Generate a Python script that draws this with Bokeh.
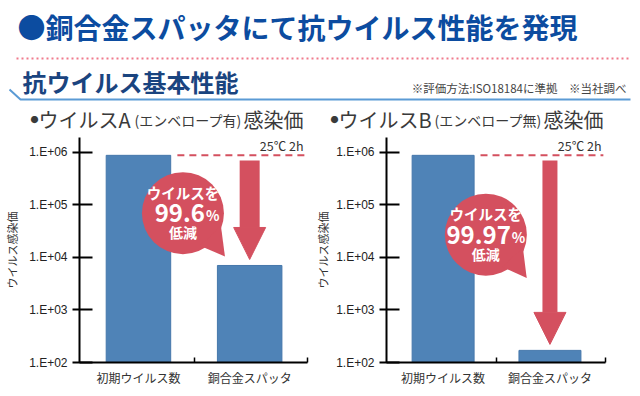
from math import log10
from bokeh.plotting import figure
from bokeh.models import Range1d, FixedTicker, Label, Arrow, NormalHead, ColumnDataSource
from bokeh.layouts import column, row
from bokeh.embed import file_html
from bokeh.resources import INLINE

# ---------------- data ----------------
CATEGORIES = ["初期ウイルス数", "銅合金スパッタ"]
VIRUS_A = [8.7e5, 7.0e3]          # infectivity titre, virus A
VIRUS_B = [8.7e5, 1.7e2]          # infectivity titre, virus B
REDUCTION = ["99.6", "99.97"]
Y_TICKS = [1e2, 1e3, 1e4, 1e5, 1e6]
Y_TICK_LABELS = ["1.E+02", "1.E+03", "1.E+04", "1.E+05", "1.E+06"]
MAIN_TITLE = "●銅合金スパッタにて抗ウイルス性能を発現"
SUBTITLE = "抗ウイルス基本性能"
NOTE = "※評価方法:ISO18184に準拠　※当社調べ"
CHART_NAMES = ["ウイルスA", "ウイルスB"]
ENVELOPE = ["(エンベロープ有)", "(エンベロープ無)"]
CONDITION = "25℃ 2h"
Y_LABEL = "ウイルス感染価"
BUBBLE_TOP = "ウイルスを"
BUBBLE_BOTTOM = "低減"

# ---------------- style ----------------
JP = "Noto Sans CJK JP"
BLUE = "#4f83b7"
BLUE_EDGE = "#4577ab"
RED = "#d4505f"
TXT = "#333333"
X0, X1 = -0.53, 1.52
Y0, Y1 = 1e2, 1.9e6
BAR_W = 0.58
FH = 229
TAIL = [(17, 33), (38, 13), (42, 44)]   # bubble tail, px from bubble centre (y down)


def px_offset(x, y, dx, dy, fw):
    return (x + dx * (X1 - X0) / fw,
            y * 10 ** (-dy * (log10(Y1) - log10(Y0)) / FH))


# ---------------- header ----------------
HDR_H = 134
hdr = figure(width=640, height=HDR_H, x_range=Range1d(0, 640), y_range=Range1d(HDR_H, 0),
             toolbar_location=None, output_backend="svg", min_border=0,
             x_axis_location=None, y_axis_location=None, title=None)
hdr.grid.visible = False
hdr.outline_line_color = None

hdr.add_layout(Label(x=17, y=26, text=MAIN_TITLE, text_font=JP, text_font_size="28px",
                     text_font_style="bold", text_color="#0c4ca0", text_baseline="middle"))
hdr.line([16, 630], [58, 58], line_color="#f07a8c", line_width=2, line_dash="2 3")
hdr.add_layout(Label(x=22, y=81, text=SUBTITLE, text_font=JP, text_font_size="24px",
                     text_font_style="bold", text_color="#1a447f", text_baseline="middle"))
hdr.add_layout(Label(x=626, y=87, text=NOTE, text_font=JP, text_font_size="11.5px",
                     text_color="#444444", text_baseline="middle", text_align="right"))
hdr.line([9, 20, 630], [89, 99, 99], line_color="#5b9bd5", line_width=2)

for origin, name, env in zip([30, 330], CHART_NAMES, ENVELOPE):
    pieces = [("●", "8px", 0), (name, "20px", 8), (env, "14px", 104), ("感染価", "20px", 213)]
    for txt, size, dx in pieces:
        hdr.add_layout(Label(x=origin + dx, y=119, text=txt, text_font=JP, text_font_size=size,
                             text_color="#3a3a3a", text_baseline="middle"))


# ---------------- charts ----------------
def make_chart(values, pct, width, left, right, bubble, split, shaft, lab_standoff):
    fw = width - left - right
    p = figure(width=width, height=254, x_range=Range1d(X0, X1), y_range=Range1d(Y0, Y1),
               y_axis_type="log", toolbar_location=None, output_backend="svg", title=None,
               min_border_left=left, min_border_right=right, min_border_top=3,
               min_border_bottom=22)
    p.grid.visible = False
    p.outline_line_color = None

    # x axis
    xa = p.xaxis[0]
    xa.ticker = FixedTicker(ticks=[0, 1], minor_ticks=[0.5, X1 - 0.004])
    xa.major_label_overrides = {0: CATEGORIES[0], 1: CATEGORIES[1]}
    xa.major_tick_line_color = None
    xa.major_tick_in = 0
    xa.major_tick_out = 0
    xa.minor_tick_in = 5
    xa.minor_tick_out = 0
    xa.minor_tick_line_color = "black"
    xa.minor_tick_line_width = 1.5
    xa.axis_line_color = "black"
    xa.axis_line_width = 2
    xa.major_label_text_font = JP
    xa.major_label_text_font_size = "12px"
    xa.major_label_text_color = TXT
    xa.major_label_standoff = 6

    # y axis
    ya = p.yaxis[0]
    ya.ticker = FixedTicker(ticks=Y_TICKS, minor_ticks=[])
    ya.major_label_overrides = dict(zip(Y_TICKS, Y_TICK_LABELS))
    ya.major_tick_in = 13
    ya.major_tick_out = 7
    ya.major_tick_line_width = 2
    ya.major_tick_line_color = "black"
    ya.axis_line_color = "black"
    ya.axis_line_width = 2
    ya.major_label_text_font = "Liberation Sans"
    ya.major_label_text_font_size = "12px"
    ya.major_label_text_color = "#222222"
    ya.major_label_standoff = 5
    ya.axis_label = Y_LABEL
    ya.axis_label_text_font = JP
    ya.axis_label_text_font_size = "11px"
    ya.axis_label_text_font_style = "normal"
    ya.axis_label_text_color = TXT
    ya.axis_label_standoff = lab_standoff

    src = ColumnDataSource(dict(x=[0, 1], top=values))
    p.vbar(x="x", top="top", bottom=Y0, width=BAR_W, source=src,
           fill_color=BLUE, line_color=BLUE_EDGE, line_width=1)

    # dashed reference at the initial titre
    p.segment(x0=[BAR_W / 2 + 0.06], y0=[values[0]], x1=[X1 - 0.02], y1=[values[0]],
              line_color=RED, line_width=2, line_dash="7 5")

    # reduction arrow
    p.add_layout(Arrow(end=NormalHead(size=32, fill_color=RED, line_color=RED),
                       x_start=1, y_start=values[0] * 0.8, x_end=1, y_end=values[1] * 1.3,
                       line_color=RED, line_width=shaft))

    # speech bubble
    cx, cy = bubble
    p.circle(x=[cx], y=[cy], radius=41, radius_units="screen", fill_color=RED, line_color=None)
    tail = [px_offset(cx, cy, dx, dy, fw) for dx, dy in TAIL]
    p.patch(x=[t[0] for t in tail], y=[t[1] for t in tail], fill_color=RED, line_color=None)
    common = dict(x=cx, y=cy, text_font=JP, text_color="white", text_font_style="bold",
                  text_baseline="middle")
    p.add_layout(Label(text=BUBBLE_TOP, y_offset=21, text_align="center",
                       text_font_size="14.5px", **common))
    p.add_layout(Label(text=pct, x_offset=split, y_offset=0, text_align="right",
                       text_font_size="24px", **common))
    p.add_layout(Label(text="%", x_offset=split + 1, y_offset=-2, text_align="left",
                       text_font_size="14px", **common))
    p.add_layout(Label(text=BUBBLE_BOTTOM, y_offset=-19, text_align="center",
                       text_font_size="14px", **common))

    # test condition
    p.add_layout(Label(x=X1, y=Y1, x_offset=-4, y_offset=-8, text=CONDITION, text_font=JP,
                       text_font_size="12.5px", text_color=TXT, text_align="right",
                       text_baseline="middle"))
    return p


pa = make_chart(VIRUS_A, REDUCTION[0], 312, 79, 5, (0.40, 6.9e4), 22, 20, 6)
pb = make_chart(VIRUS_B, REDUCTION[1], 328, 68, 35, (0.40, 2.7e4), 25, 15, 2)

layout = column(hdr, row(pa, pb))
open("out.html", "w").write(file_html(layout, INLINE))
